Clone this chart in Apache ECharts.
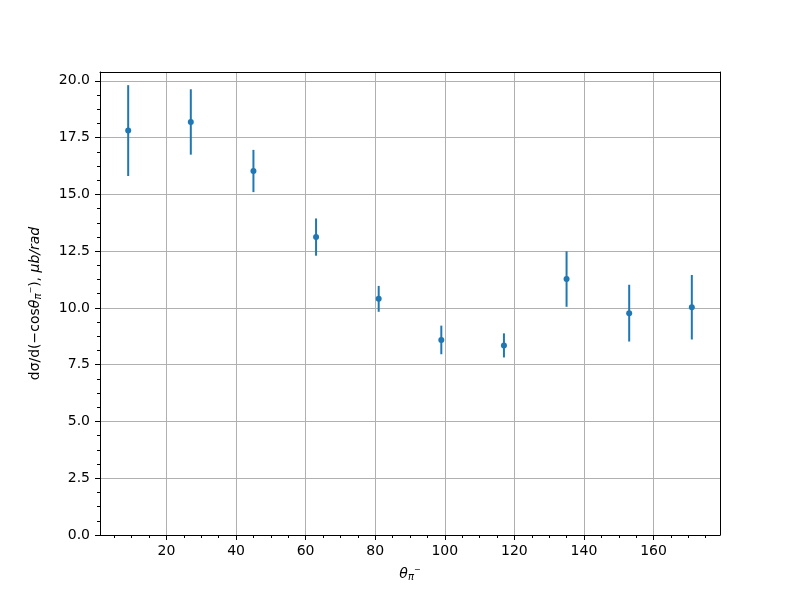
<!DOCTYPE html>
<html>
<head>
<meta charset="utf-8">
<script src="https://cdn.jsdelivr.net/npm/echarts@6/dist/echarts.min.js"></script>
<style>html,body{margin:0;padding:0;background:#fff}#c{width:800px;height:600px}</style>
</head>
<body>
<div id="c"></div>
<script>
// Data
const theta = [9, 27, 45, 63, 81, 99, 117, 135, 153, 171];
const xsec = [17.81, 18.19, 16.03, 13.12, 10.40, 8.59, 8.35, 11.27, 9.77, 10.03];
const xsecErr = [2.00, 1.44, 0.93, 0.82, 0.57, 0.63, 0.53, 1.22, 1.25, 1.42];
const yTicks = [0, 2.5, 5, 7.5, 10, 12.5, 15, 17.5, 20];
const xTicks = [20, 40, 60, 80, 100, 120, 140, 160];
const xMinorTicks = [5, 10, 15, 25, 30, 35, 45, 50, 55, 65, 70, 75, 85, 90, 95, 105, 110, 115,
  125, 130, 135, 145, 150, 155, 165, 170, 175];
const yMinorTicks = [0.625, 1.25, 1.875, 3.125, 3.75, 4.375, 5.625, 6.25, 6.875, 8.125, 8.75, 9.375,
  10.625, 11.25, 11.875, 13.125, 13.75, 14.375, 15.625, 16.25, 16.875, 18.125, 18.75, 19.375];

const pts = theta.map((t, i) => [t, xsec[i], xsecErr[i]]);
const FONT = 'DejaVu Sans';
const blue = '#1f77b4';
const XMIN = 0.9, XMAX = 179.1, YMIN = 0, YMAX = 20.39;

const chart = echarts.init(document.getElementById('c'), null, {renderer: 'canvas'});
const subRich = {
  n: {fontSize: 14, fontFamily: FONT, color: '#000'},
  th: {fontSize: 14, fontStyle: 'italic', fontFamily: FONT, color: '#000'},
  it: {fontSize: 14, fontStyle: 'italic', fontFamily: FONT, color: '#000'},
  sub: {fontSize: 10, fontStyle: 'italic', fontFamily: FONT, color: '#000', verticalAlign: 'bottom', padding: [6, 0, 0, 0]},
  sup: {fontSize: 8, fontFamily: FONT, color: '#000', verticalAlign: 'top', padding: [0, 0, 2, 0]}
};
const option = {
  animation: false,
  backgroundColor: '#fff',
  textStyle: {fontFamily: FONT},
  grid: {left: 100, right: 80, top: 72, bottom: 65, containLabel: false},
  xAxis: [{
    type: 'value', min: XMIN, max: XMAX, minInterval: 20, maxInterval: 20, splitNumber: 9,
    axisLine: {show: true, onZero: false, lineStyle: {color: '#000', width: 1}},
    axisTick: {show: true, length: 5, customValues: xTicks, lineStyle: {color: '#000', width: 1}},
    axisLabel: {show: true, color: '#000', fontSize: 14, margin: 9, fontFamily: FONT,
      customValues: xTicks, formatter: v => String(v)},
    splitLine: {show: true, lineStyle: {color: '#b0b0b0', width: 1}},
    name: '{th|θ}{sub|π}{sup|−}',
    nameLocation: 'middle', nameGap: 31,
    nameTextStyle: {color: '#000', fontFamily: FONT, fontSize: 14, rich: subRich}
  }, {
    type: 'value', position: 'top', min: XMIN, max: XMAX, z: 5,
    axisLine: {show: true, onZero: false, lineStyle: {color: '#000', width: 1}},
    axisTick: {show: false}, axisLabel: {show: false}, splitLine: {show: false}
  }, {
    type: 'value', position: 'bottom', min: XMIN, max: XMAX,
    axisLine: {show: false, onZero: false},
    axisTick: {show: true, length: 3, customValues: xMinorTicks, lineStyle: {color: '#000', width: 1}},
    axisLabel: {show: false}, splitLine: {show: false}
  }],
  yAxis: [{
    type: 'value', min: YMIN, max: YMAX, minInterval: 2.5, maxInterval: 2.5, splitNumber: 8,
    axisLine: {show: true, onZero: false, lineStyle: {color: '#000', width: 1}},
    axisTick: {show: true, length: 5, customValues: yTicks, lineStyle: {color: '#000', width: 1}},
    axisLabel: {show: true, color: '#000', fontSize: 14, margin: 10, fontFamily: FONT,
      customValues: yTicks, formatter: v => v.toFixed(1)},
    splitLine: {show: true, lineStyle: {color: '#b0b0b0', width: 1}},
    name: '{n|dσ/d(−cos}{th|θ}{sub|π}{sup|−}{n|), }{it|μb/rad}',
    nameLocation: 'middle', nameGap: 57, nameRotate: 90,
    nameTextStyle: {color: '#000', fontFamily: FONT, fontSize: 14, rich: subRich}
  }, {
    type: 'value', position: 'right', min: YMIN, max: YMAX, z: 5,
    axisLine: {show: true, onZero: false, lineStyle: {color: '#000', width: 1}},
    axisTick: {show: false}, axisLabel: {show: false}, splitLine: {show: false}
  }, {
    type: 'value', position: 'left', min: YMIN, max: YMAX,
    axisLine: {show: false, onZero: false},
    axisTick: {show: true, length: 3, customValues: yMinorTicks, lineStyle: {color: '#000', width: 1}},
    axisLabel: {show: false}, splitLine: {show: false}
  }],
  series: [{
    type: 'custom',
    xAxisIndex: 0, yAxisIndex: 0,
    data: pts,
    z: 3,
    renderItem: function (params, api) {
      const x = api.value(0), y = api.value(1), e = api.value(2);
      const lo = api.coord([x, y - e]);
      const hi = api.coord([x, y + e]);
      return {
        type: 'line',
        shape: {x1: lo[0], y1: lo[1], x2: hi[0], y2: hi[1]},
        style: {stroke: blue, lineWidth: 2}
      };
    }
  }, {
    type: 'scatter',
    xAxisIndex: 0, yAxisIndex: 0,
    data: pts.map(p => [p[0], p[1]]),
    symbol: 'circle', symbolSize: 6,
    itemStyle: {color: blue, opacity: 1},
    z: 4
  }]
};
chart.setOption(option);
</script>
</body>
</html>
